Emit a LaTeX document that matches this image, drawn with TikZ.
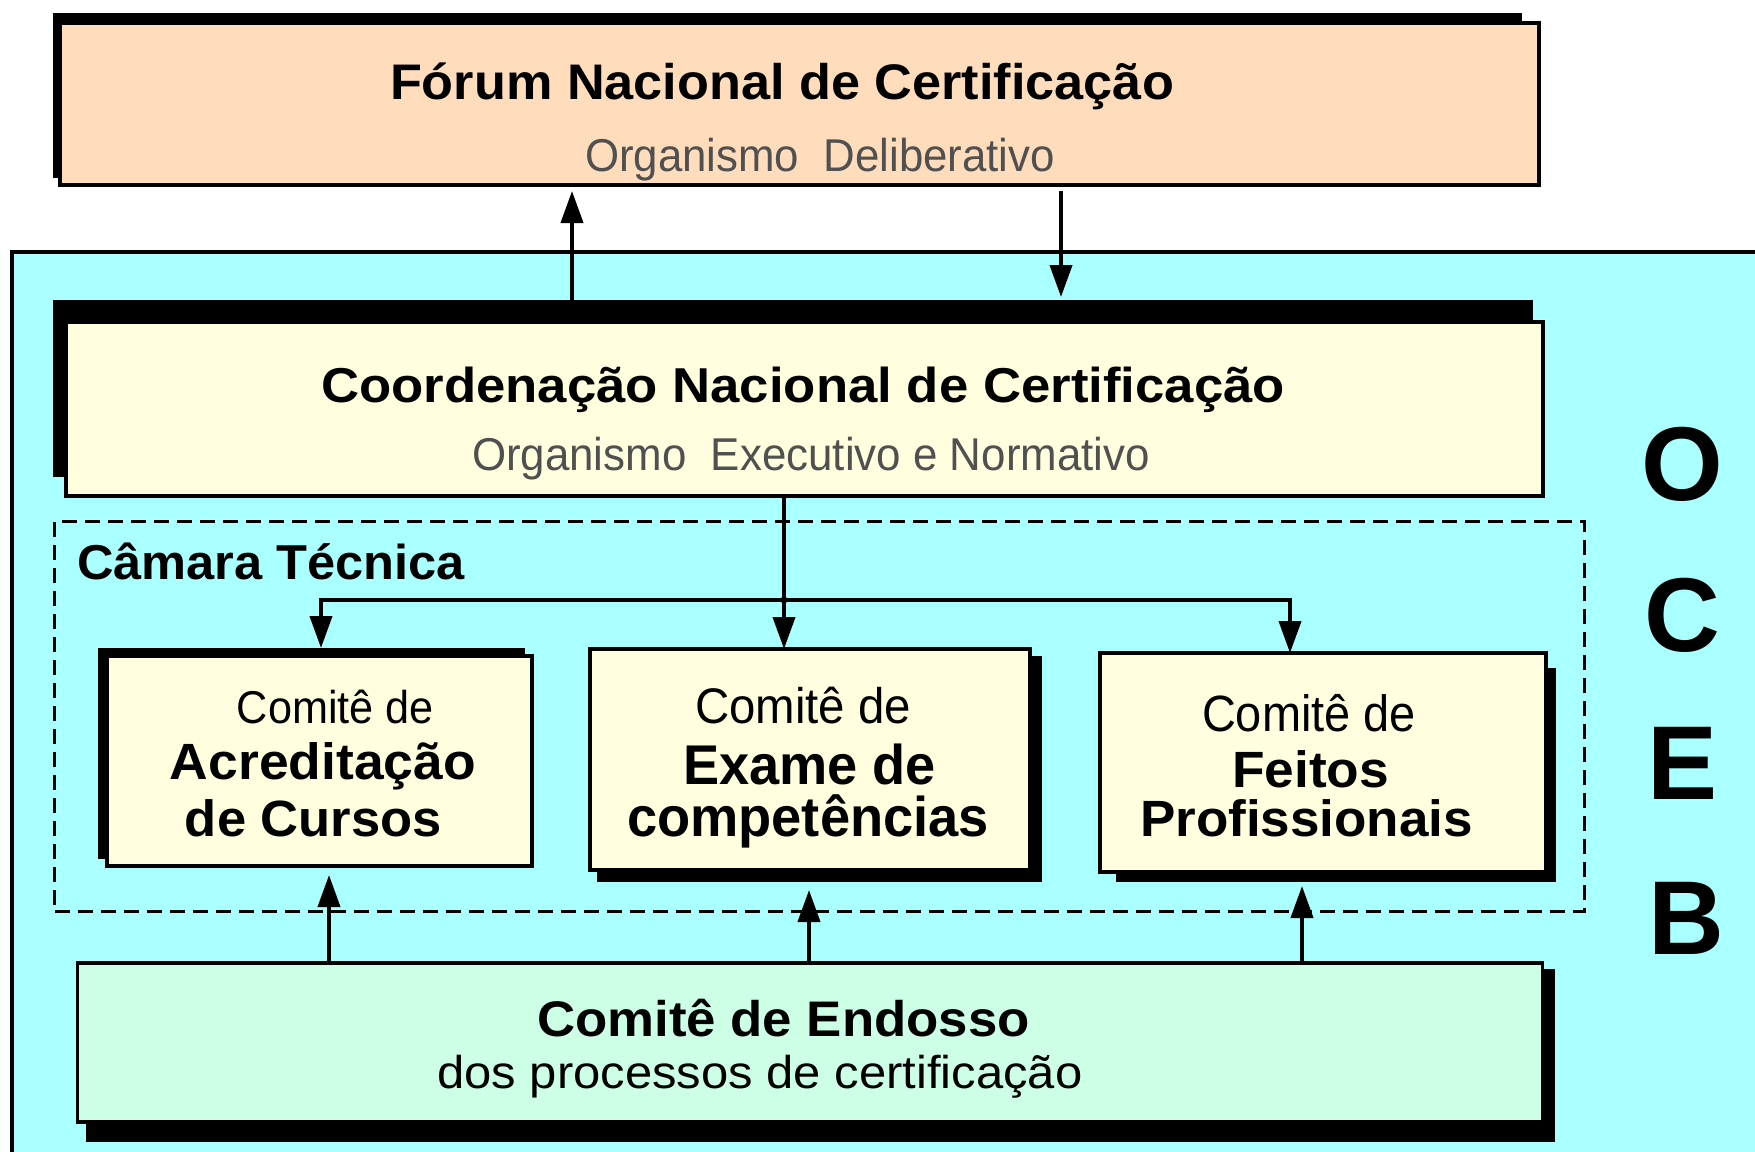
\documentclass[tikz,border=0pt]{standalone}
\usepackage{fontspec}
\setmainfont{Liberation Sans}
\usetikzlibrary{arrows.meta}
\definecolor{ocebcol}{RGB}{170,255,255}
\definecolor{peach}{RGB}{255,220,188}
\definecolor{lyellow}{RGB}{255,255,224}
\definecolor{mint}{RGB}{204,255,230}
\definecolor{subgray}{RGB}{80,80,80}
\newcommand{\fitw}[2]{\resizebox{#1}{\height}{#2}}
\newcommand{\fsz}[1]{\fontsize{#1}{#1}\selectfont}
\begin{document}
\begin{tikzpicture}[x=1pt,y=-1pt,
  box/.style={draw=black, line width=3.6pt, rectangle, inner sep=0pt, outer sep=0pt},
  shad/.style={fill=black, rectangle, inner sep=0pt, outer sep=0pt},
  txt/.style={anchor=base, inner sep=0pt, outer sep=0pt},
  conn/.style={line width=4pt},
  arr/.style={conn, -{Triangle[width=22pt,length=32pt]}},
]
\clip (0,0) rectangle (1755,1151);
\fill[white] (0,0) rectangle (1755,1151);

% OCEB panel
\node[box, line width=4pt, fill=ocebcol, anchor=north west, minimum width=1800pt, minimum height=950pt] (panel) at (11.5,252) {};

% Forum
\node[shad, minimum width=1469pt, minimum height=165pt] (forumS) at (787.5,95.5) {};
\node[box, fill=peach, minimum width=1479pt, minimum height=162pt] (forum) at (799.5,104) {};
\node[txt] (forumt) at (782,99) {\fsz{50}\bfseries\fitw{784pt}{Fórum Nacional de Certificação}};
\node[txt, text=subgray] (forums) at (820,171) {\fsz{46}\fitw{470pt}{Organismo\ \ Deliberativo}};

% Coordenacao
\node[shad, minimum width=1480pt, minimum height=177pt] (coordS) at (793,388.5) {};
\node[box, fill=lyellow, minimum width=1477pt, minimum height=174pt] (coord) at (804.5,409) {};
\node[txt] (coordt) at (803,402) {\fsz{49}\bfseries\fitw{964pt}{Coordenação Nacional de Certificação}};
\node[txt, text=subgray] (coords) at (811,470) {\fsz{46}\fitw{678pt}{Organismo\ \ Executivo e Normativo}};

% Camara tecnica
\node[draw=black, line width=3pt, dash pattern=on 15pt off 8pt, rectangle, inner sep=0pt,
      minimum width=1529.5pt, minimum height=390pt] (camara) at (819.25,716) {};
\node[txt, anchor=base west] (camarat) at (77,579) {\fsz{49}\bfseries\fitw{388pt}{Câmara Técnica}};

% Acreditacao
\node[shad, minimum width=427pt, minimum height=211pt] (acredS) at (311.5,753.5) {};
\node[box, fill=lyellow, minimum width=425pt, minimum height=210pt] (acred) at (319.5,761) {};
\node[txt] (acred1) at (335.5,723) {\fsz{46}\fitw{197pt}{Comitê de}};
\node[txt] (acred2) at (323,779) {\fsz{51}\bfseries\fitw{306pt}{Acreditação}};
\node[txt] (acred3) at (313.5,836) {\fsz{51}\bfseries\fitw{257pt}{de Cursos}};

% Exame
\node[shad, minimum width=445pt, minimum height=226pt] (exameS) at (819.5,769) {};
\node[box, fill=lyellow, minimum width=440pt, minimum height=221pt] (exame) at (810,759.5) {};
\node[txt] (exame1) at (803,723) {\fsz{50}\fitw{216pt}{Comitê de}};
\node[txt] (exame2) at (809.5,784) {\fsz{56}\bfseries\fitw{253pt}{Exame de}};
\node[txt] (exame3) at (808,836) {\fsz{56}\bfseries\fitw{362pt}{competências}};

% Feitos
\node[shad, minimum width=440pt, minimum height=214pt] (feitosS) at (1336,775) {};
\node[box, fill=lyellow, minimum width=446pt, minimum height=219pt] (feitos) at (1323,762.5) {};
\node[txt] (feitos1) at (1309,731) {\fsz{51}\fitw{214pt}{Comitê de}};
\node[txt] (feitos2) at (1310.5,787) {\fsz{51}\bfseries\fitw{157pt}{Feitos}};
\node[txt] (feitos3) at (1306.5,836) {\fsz{51}\bfseries\fitw{333pt}{Profissionais}};

% Endosso
\node[shad, minimum width=1469pt, minimum height=173pt] (endossoS) at (820.5,1055.5) {};
\node[box, fill=mint, minimum width=1465pt, minimum height=159pt] (endosso) at (810,1042.5) {};
\node[txt] (endossot) at (783.5,1036) {\fsz{50}\bfseries\fitw{493pt}{Comitê de Endosso}};
\node[txt] (endossos) at (760,1088) {\fsz{46}\fitw{645pt}{dos processos de certificação}};

% OCEB letters
\node[txt] (lO) at (1682,500) {\fsz{105}\bfseries O};
\node[txt] (lC) at (1682,651) {\fsz{105}\bfseries C};
\node[txt] (lE) at (1682,799) {\fsz{105}\bfseries E};
\node[txt] (lB) at (1686,954) {\fsz{105}\bfseries B};

% connectors Forum <-> Coordenacao
\coordinate (xa) at (572,0);
\coordinate (xb) at (1061,0);
\draw[arr, shorten >=6pt] (xa |- coordS.north) -- (xa |- forum.south);
\draw[arr, shorten <=6pt, shorten >=3pt] (xb |- forum.south) -- (xb |- coordS.north);

% Coordenacao -> committees
\coordinate (jn) at (784,600);
\coordinate (jl) at (321,600);
\coordinate (jr) at (1290,600);
\draw[arr] (jn |- coord.south) -- (jn |- exame.north);
\draw[arr] (jn) -| (jl |- acredS.north);
\draw[arr] (jn) -| (jr |- feitos.north);
\fill (jn) circle (3.5pt);

% Endosso -> committees
\coordinate (u1) at (329,0);
\coordinate (u2) at (809,0);
\coordinate (u3) at (1302,0);
\draw[arr, shorten >=9pt] (u1 |- endosso.north) -- (u1 |- acred.south);
\draw[arr, shorten >=8pt] (u2 |- endosso.north) -- (u2 |- exameS.south);
\draw[arr, shorten >=4pt] (u3 |- endosso.north) -- (u3 |- feitosS.south);
\end{tikzpicture}
\end{document}
